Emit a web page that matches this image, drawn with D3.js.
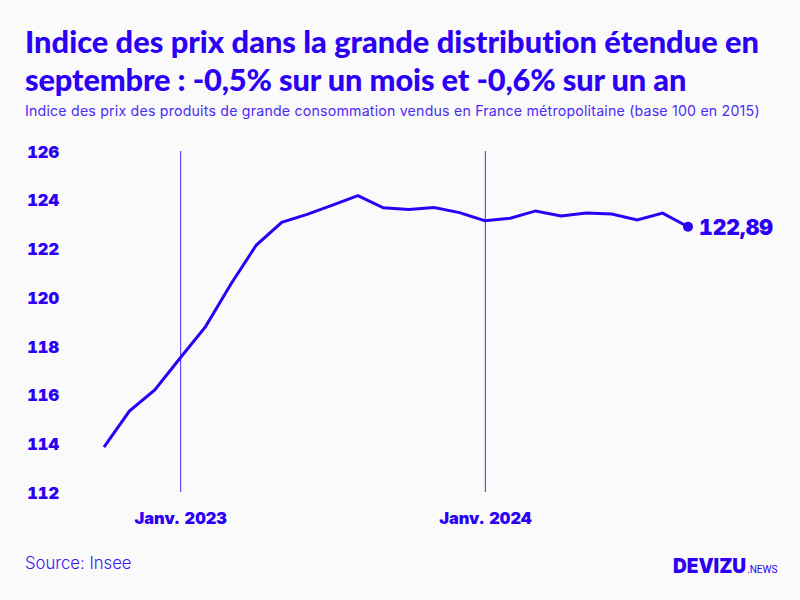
<!DOCTYPE html>
<html lang="fr">
<head>
    <meta charset="UTF-8">
    <title>Indice des prix</title>
    <script src="https://d3js.org/d3.v7.min.js"></script>
    <style>
        html, body { margin: 0; padding: 0; background: #fafafa; }
        svg { display: block; }
        text { fill: #2b00f5; }
        .title { font-family: Lato, sans-serif; font-weight: 900; font-size: 30.8px; font-variant-ligatures: none; }
        .subtitle { font-family: Inter, sans-serif; font-size: 14.2px; letter-spacing: 0.19px; fill: #4a2af5; }
        .tick-label text { font-family: Inter, sans-serif; font-weight: 900; font-size: 16.4px; font-feature-settings: "tnum"; word-spacing: 1px; }
        .source { font-family: Inter, sans-serif; font-weight: 300; font-size: 16.7px; fill: #3a15f5; }
        .end-label { font-family: Inter, sans-serif; font-weight: 900; font-size: 21.2px; font-feature-settings: "tnum"; }
    </style>
</head>
<body>
    <div id="output"></div>
    <script>
        var months = ["2022-10", "2022-11", "2022-12",
            "2023-01", "2023-02", "2023-03", "2023-04", "2023-05", "2023-06",
            "2023-07", "2023-08", "2023-09", "2023-10", "2023-11", "2023-12",
            "2024-01", "2024-02", "2024-03", "2024-04", "2024-05", "2024-06",
            "2024-07", "2024-08", "2024-09"];
        var values = [113.84, 115.32, 116.19,
            117.5, 118.79, 120.54, 122.14, 123.07, 123.4,
            123.78, 124.17, 123.67, 123.6, 123.68, 123.47,
            123.14, 123.24, 123.54, 123.33, 123.45, 123.41,
            123.17, 123.45, 122.89];
        var yTicks = [112, 114, 116, 118, 120, 122, 124, 126];
        var markedMonths = ["2023-01", "2024-01"];
        var markedLabels = ["Janv. 2023", "Janv. 2024"];
        var endLabel = "122,89";
        var titleLines = ["Indice des prix dans la grande distribution étendue en",
            "septembre : -0,5% sur un mois et -0,6% sur un an"];
        var subtitle = "Indice des prix des produits de grande consommation vendus en France métropolitaine (base 100 en 2015)";

        var color = "#2b00f5";

        var svg = d3.select("#output").append("svg")
            .attr("width", 800)
            .attr("height", 600);

        svg.append("rect")
            .attr("width", 800)
            .attr("height", 600)
            .attr("fill", "#fafafa");

        var x = d3.scalePoint().domain(months).range([104, 688]);
        var y = d3.scaleLinear().domain([112, 126]).range([492, 151]);

        svg.selectAll(".title")
            .data(titleLines)
            .enter().append("text")
            .attr("class", "title")
            .attr("x", 25)
            .attr("y", function(d, i) { return 53 + i * 38; })
            .style("letter-spacing", function(d, i) { return i === 1 ? "-0.15px" : null; })
            .text(function(d) { return d; });

        svg.append("text")
            .attr("class", "subtitle")
            .attr("x", 25)
            .attr("y", 116)
            .text(subtitle);

        // y axis: labels only
        var yAxis = svg.append("g")
            .attr("class", "tick-label")
            .attr("transform", "translate(59,1)")
            .call(d3.axisLeft(y).tickValues(yTicks).tickSize(0).tickPadding(0));
        yAxis.select(".domain").remove();
        yAxis.selectAll("text").attr("text-anchor", "end");

        svg.selectAll(".marker")
            .data(markedMonths)
            .enter().append("line")
            .attr("class", "marker")
            .attr("x1", function(d) { return x(d) + 0.5; })
            .attr("x2", function(d) { return x(d) + 0.5; })
            .attr("y1", y(126))
            .attr("y2", y(112))
            .attr("stroke", "#4a2af5")
            .attr("stroke-width", 1);

        var xAxis = svg.append("g")
            .attr("class", "tick-label")
            .attr("transform", "translate(0,512)")
            .call(d3.axisBottom(x)
                .tickValues(markedMonths)
                .tickSize(0)
                .tickPadding(0)
                .tickFormat(function(d, i) { return markedLabels[i]; }));
        xAxis.select(".domain").remove();

        var line = d3.line()
            .x(function(d, i) { return x(months[i]); })
            .y(function(d) { return y(d); });

        svg.append("path")
            .datum(values)
            .attr("d", line)
            .attr("fill", "none")
            .attr("stroke", color)
            .attr("stroke-width", 3);

        var lastMonth = months[months.length - 1];
        var lastValue = values[values.length - 1];

        svg.append("circle")
            .attr("cx", x(lastMonth))
            .attr("cy", y(lastValue))
            .attr("r", 5)
            .attr("fill", color);

        svg.append("text")
            .attr("class", "end-label")
            .attr("x", x(lastMonth) + 11)
            .attr("y", y(lastValue) + 1)
            .attr("dy", "0.36em")
            .text(endLabel);

        svg.append("text")
            .attr("class", "source")
            .attr("x", 25)
            .attr("y", 569)
            .text("Source: Insee");

        // logo
        svg.append("text")
            .attr("transform", "translate(673,573) scale(0.93,1)")
            .attr("font-family", "Inter, sans-serif")
            .attr("font-weight", 900)
            .attr("font-size", 20.5)
            .text("DEVIZU");
        svg.append("text")
            .attr("transform", "translate(747,573) scale(0.92,1)")
            .attr("font-family", "Roboto, sans-serif")
            .attr("font-size", 11)
            .text(".NEWS");
    </script>
</body>
</html>
